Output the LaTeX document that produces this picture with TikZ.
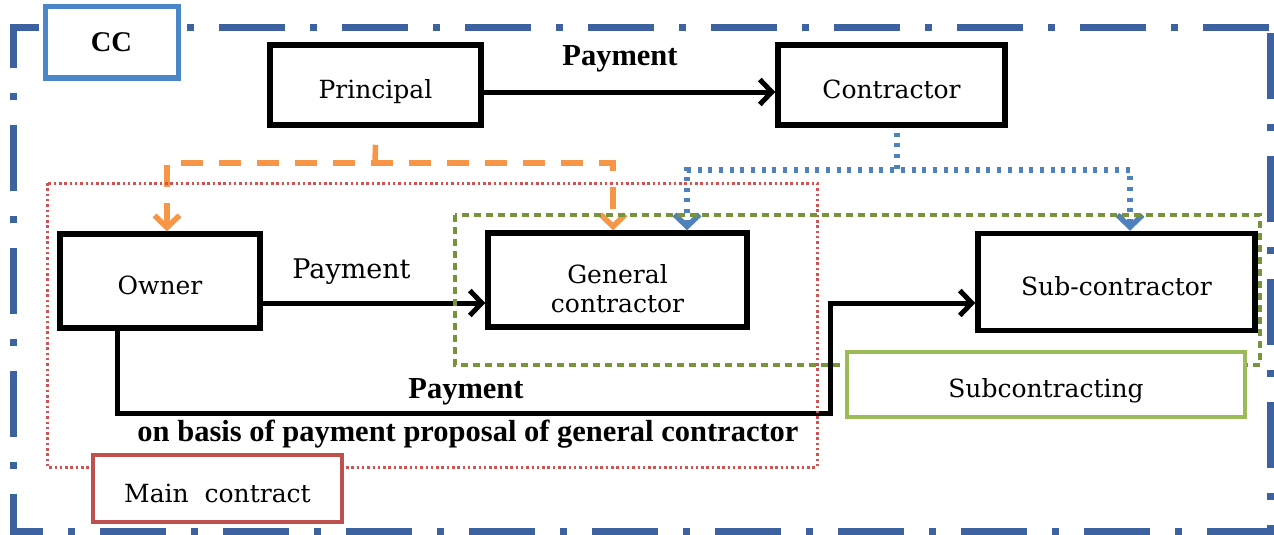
\documentclass[tikz,border=0pt]{standalone}
\usepackage{fontspec}
\setmainfont{DejaVu Serif}
\newfontfamily\timesfam{Liberation Serif}
\usetikzlibrary{arrows.meta}

\definecolor{framebl}{RGB}{60,98,160}
\definecolor{ccblue}{RGB}{74,134,200}
\definecolor{flowblue}{RGB}{79,129,189}
\definecolor{floworange}{RGB}{247,150,70}
\definecolor{mainred}{RGB}{210,82,82}
\definecolor{boxred}{RGB}{192,80,77}
\definecolor{subolive}{RGB}{119,147,60}
\definecolor{subgreen}{RGB}{155,187,89}

\tikzset{
  frameline/.style={draw=framebl, line width=7pt,
    dash pattern=on 66pt off 25pt on 7pt off 25pt},
  entity/.style={draw=black, line width=5.5pt, fill=white, inner sep=0pt,
    align=center, font=\fontsize{25}{29}\selectfont,
    text height=26pt, text depth=0pt},
  tagbox/.style={fill=white, inner sep=0pt, align=center,
    font=\fontsize{25}{29}\selectfont, text depth=0pt},
  barb/.tip={Straight Barb[length=12pt,width=25pt]},
  payarrow/.style={draw=black, line width=5pt, -barb},
  orangeflow/.style={draw=floworange, line width=5.5pt,
    dash pattern=on 22pt off 16pt},
  blueflow/.style={draw=flowblue, line width=5.5pt,
    dash pattern=on 4pt off 6.7pt},
  boldlbl/.style={font=\timesfam\bfseries\fontsize{30.5}{34}\selectfont, inner sep=0pt},
  plainlbl/.style={font=\fontsize{27}{31}\selectfont, inner sep=0pt},
}

\begin{document}
\begin{tikzpicture}[x=1pt,y=-1pt]
\useasboundingbox (0,0) rectangle (1274,535);

% outer dash-dot frame, one side at a time
\draw[frameline, dash phase=36.5pt] (9.5,28) -- (1273.5,28);
\draw[frameline, dash phase=22.5pt] (13,24.5) -- (13,534.5);
\draw[frameline, dash phase=32.5pt] (9.5,531) -- (1273.5,531);
\draw[frameline, dash phase=114.5pt] (1270,24.5) -- (1270,534.5);

% parties
\node[entity, minimum width=211pt, minimum height=80pt] (principal) at (375.5,85) {Principal};
\node[entity, minimum width=227pt, minimum height=80pt] (contractor) at (891.5,85) {Contractor};
\node[entity, minimum width=200pt, minimum height=94pt] (owner) at (160,281) {Owner};
\node[entity, minimum width=259pt, minimum height=94pt, text height=64pt] (gc) at (617.5,280) {General\\contractor};
\node[entity, minimum width=277pt, minimum height=97pt] (sub) at (1116.5,282) {Sub-contractor};

% junction points of the split connectors
\coordinate (ojoin) at (375,163);
\coordinate (bjoin) at (897,170);
\coordinate (pelbow) at (830,413);

% principal -> owner / general contractor
\draw[orangeflow] ([yshift=-17pt]principal.south) -- (ojoin);
\draw[orangeflow, barb-barb] ([xshift=7pt]owner.north) |- (ojoin) -| ([xshift=-4.5pt]gc.north);

% contractor -> general contractor / sub-contractor
\draw[blueflow] ([xshift=5.5pt,yshift=-5pt]contractor.south) -- (bjoin);
\draw[blueflow, barb-barb] ([xshift=69.5pt]gc.north) |- (bjoin) -| ([xshift=13.5pt]sub.north);

% payments
\draw[payarrow] ([yshift=-7pt]principal.east) -- ([yshift=-7pt]contractor.west);
\draw[payarrow] ([yshift=-22pt]owner.east) -- ([yshift=-23pt]gc.west);
\draw[payarrow] ([xshift=-43pt]owner.south) |- (pelbow) |- ([yshift=-21pt]sub.west);

\node[boldlbl, anchor=base] (paytop) at (620,66) {Payment};
\node[plainlbl, anchor=base] (paymid) at (351.5,278) {Payment};
\node[boldlbl, anchor=base] (paylow) at (466,398) {Payment};
\node[boldlbl, anchor=base] (basis) at (468,441) {on basis of payment proposal of general contractor};

% contract regions
\draw[draw=mainred, line width=3pt, dash pattern=on 2.5pt off 2.8pt] (47,183) rectangle (817,467);
\draw[draw=subolive, line width=3.5pt, dash pattern=on 7pt off 5pt] (455,215) rectangle (1260,365);

% region tags
\node[tagbox, draw=ccblue, line width=5pt, minimum width=133pt, minimum height=71pt,
  text height=19pt, font=\timesfam\bfseries\fontsize{28.5}{32}\selectfont] (cc) at (111.5,42.5) {CC};
\node[tagbox, draw=boxred, line width=4pt, minimum width=249pt, minimum height=67pt,
  text height=27pt] (mainc) at (217.5,488.5) {Main~ contract};
\node[tagbox, draw=subgreen, line width=4pt, minimum width=398pt, minimum height=65pt,
  text height=25pt] (subc) at (1046,384.5) {Subcontracting};
\end{tikzpicture}
\end{document}
